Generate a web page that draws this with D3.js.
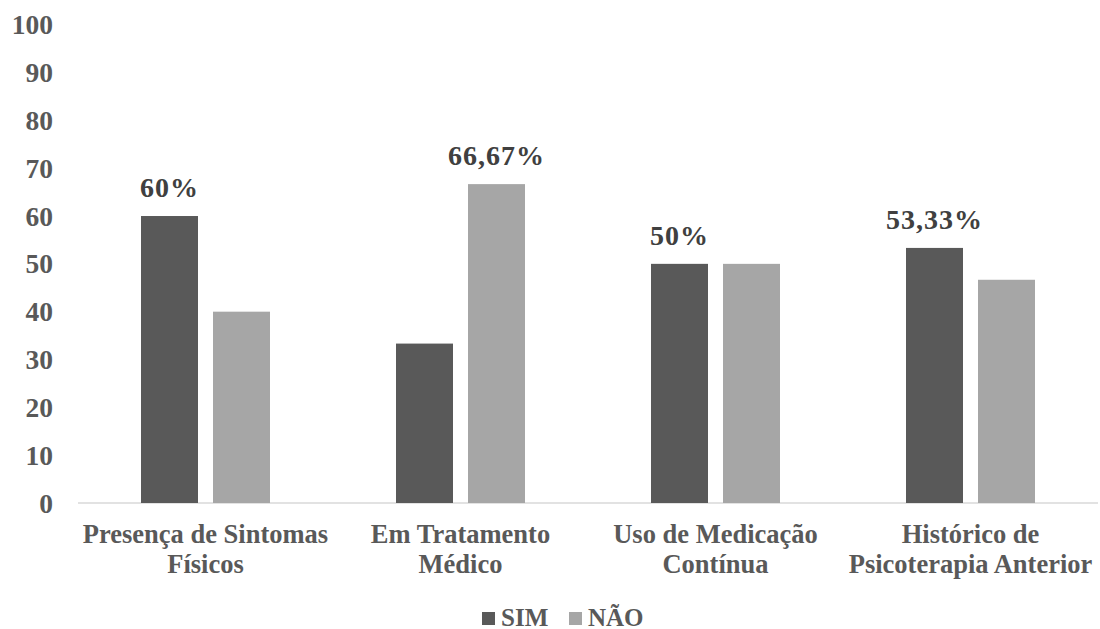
<!DOCTYPE html>
<html><head><meta charset="utf-8">
<script src="https://cdn.jsdelivr.net/npm/d3@7"></script>
</head><body style="margin:0;background:#fff">
<svg id="c" width="1100" height="629" style="display:block;font-family:'Liberation Serif',serif;font-weight:bold"></svg>
<script>
const categories = [["Presença de Sintomas","Físicos"],["Em Tratamento","Médico"],["Uso de Medicação","Contínua"],["Histórico de","Psicoterapia Anterior"]];
const seriesNames = ["SIM","NÃO"];
const sim = [60, 33.33, 50, 53.33];
const nao = [40, 66.67, 50, 46.67];
const labelTexts = ["60%","66,67%","50%","53,33%"];
const labelSeries = [0,1,0,0];
const yTicks = [0,10,20,30,40,50,60,70,80,90,100];
const colors = ["#595959","#a6a6a6"];

const FF = "font-family:'Liberation Serif',serif;font-weight:bold";
const svg = d3.select("#c");
const x0 = d3.scaleBand().domain(d3.range(categories.length)).range([78,1098]);
const y = d3.scaleLinear().domain([0,100]).range([503,24.7]);
const x1 = d3.scaleBand().domain([0,1]).range([0,129]).paddingInner(15/72);
const groupOff = (x0.bandwidth()-129)/2;
const values = [sim, nao];

svg.append("line").attr("x1",78).attr("x2",1098).attr("y1",y(0)).attr("y2",y(0))
  .attr("stroke","#d9d9d9").attr("stroke-width",1.5);

svg.append("g").selectAll("text").data(yTicks).join("text")
  .attr("x",53).attr("y",d=>y(d)).attr("dy","0.35em").attr("text-anchor","end")
  .attr("style",FF).attr("font-size",27.5).attr("fill","#595959").text(d=>d);

values.forEach((vals,s)=>{
  svg.append("g").selectAll("rect").data(vals).join("rect")
    .attr("x",(d,i)=>x0(i)+groupOff+x1(s)).attr("width",x1.bandwidth())
    .attr("y",d=>y(d)).attr("height",d=>y(0)-y(d)).attr("fill",colors[s]);
});

svg.append("g").selectAll("text").data(labelTexts).join("text")
  .attr("x",(d,i)=>x0(i)+groupOff+x1(labelSeries[i])+x1.bandwidth()/2)
  .attr("y",(d,i)=>y(values[labelSeries[i]][i])-19)
  .attr("text-anchor","middle").attr("style",FF).attr("letter-spacing",1)
  .attr("font-size",28).attr("fill","#404040").text(d=>d);

const cg = svg.append("g").selectAll("text").data(categories).join("text")
  .attr("text-anchor","middle").attr("style",FF)
  .attr("font-size",26.5).attr("fill","#595959");
cg.selectAll("tspan").data((d,i)=>d.map(t=>({t,i}))).join("tspan")
  .attr("x",d=>x0(d.i)+x0.bandwidth()/2).attr("y",(d,j)=>543+j*30).text(d=>d.t);

const leg = svg.append("g");
const legX = [482, 569];
seriesNames.forEach((n,s)=>{
  leg.append("rect").attr("x",legX[s]).attr("y",612).attr("width",13).attr("height",13).attr("fill",colors[s]);
  leg.append("text").attr("x",legX[s]+19).attr("y",626).attr("style",FF)
    .attr("font-size",25).attr("fill","#595959").text(n);
});
</script>
</body></html>
